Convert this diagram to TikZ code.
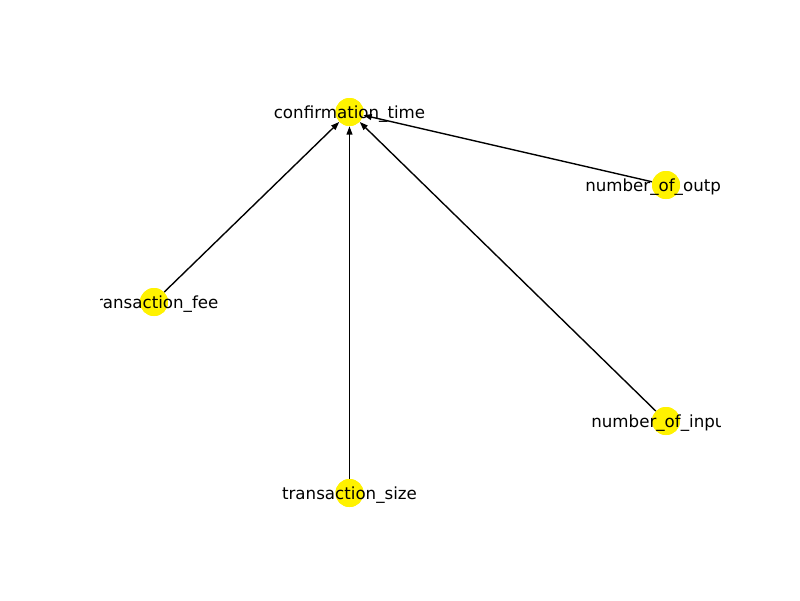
\documentclass[tikz,border=0pt]{standalone}
\usepackage{fontspec}
\setmainfont{DejaVu Sans}
\usetikzlibrary{arrows.meta}
\begin{document}
\begin{tikzpicture}[x=0.72pt,y=-0.72pt,
  vertex/.style={circle,fill=yellow,draw=none,minimum size=28*0.72pt,inner sep=0pt},
  vlabel/.style={font=\fontsize{12pt}{14pt}\selectfont,text=black,inner sep=0pt,yshift=-1.5pt},
  edge/.style={line width=1pt,draw=black,-{Triangle[length=6pt,width=4.2pt]}}]
  \useasboundingbox[fill=white] (0,0) rectangle (800,600);
  \begin{scope}
    \clip (100,72) rectangle (720,534);
    % graph vertices
    \node[vertex] (ct) at (349.5,112) {};
    \node[vertex] (out) at (666,185) {};
    \node[vertex] (fee) at (154,302) {};
    \node[vertex] (inp) at (666,421) {};
    \node[vertex] (size) at (349.5,493) {};
    % directed edges into confirmation_time
    \draw[edge] (fee) -- (ct);
    \draw[edge] (size) -- (ct);
    \draw[edge] (inp) -- (ct);
    \draw[edge] (out) -- (ct);
    % redraw vertices over edge starts
    \node[vertex] at (ct) {};
    \node[vertex] at (out) {};
    \node[vertex] at (fee) {};
    \node[vertex] at (inp) {};
    \node[vertex] at (size) {};
    % labels
    \node[vlabel] (lct) at (349.5,112) {confirmation\_time};
    \node[vlabel] (lout) at (666,185) {number\_of\_outputs};
    \node[vlabel] (lfee) at (154,302) {transaction\_fee};
    \node[vlabel] (linp) at (666,421) {number\_of\_inputs};
    \node[vlabel] (lsize) at (349.5,493) {transaction\_size};
  \end{scope}
\end{tikzpicture}
\end{document}
